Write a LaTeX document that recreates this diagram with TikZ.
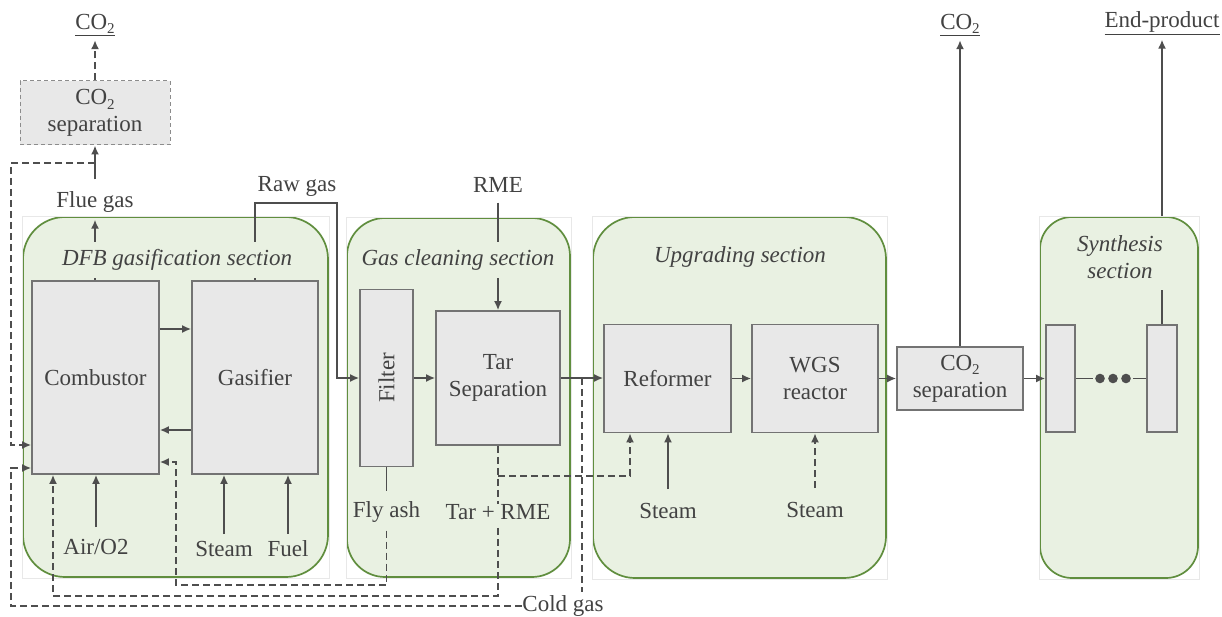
\documentclass[tikz,border=0pt]{standalone}
\usepackage{fontspec}
\setmainfont{Liberation Serif}
\usetikzlibrary{arrows.meta,calc}
\definecolor{secbg}{RGB}{233,241,226}
\definecolor{secline}{RGB}{96,142,62}
\definecolor{boxfill}{RGB}{232,232,232}
\definecolor{boxline}{RGB}{115,115,115}
\definecolor{txt}{RGB}{66,66,66}
\definecolor{lncol}{RGB}{78,78,78}
\newcommand{\cosub}{CO\raisebox{-0.45ex}{\fontsize{15}{15}\selectfont 2}}
\begin{document}
\begin{tikzpicture}[x=1pt,y=-1pt,
  every node/.style={text=txt, font=\fontsize{23}{27}\selectfont},
  sec/.style={draw=secline, fill=secbg, line width=1.7pt, inner sep=0},
  faint/.style={draw=black!9, line width=0.5pt},
  unit/.style={draw=boxline, fill=boxfill, line width=1.6pt, inner sep=0, align=center},
  lbl/.style={inner sep=0, align=center},
  seclbl/.style={inner sep=0, align=center, font=\fontsize{23}{27}\selectfont\itshape},
  pipe/.style={draw=lncol, line width=1.8pt},
  flow/.style={pipe, -{Latex[length=9pt,width=8pt]}},
  dsh/.style={dash pattern=on 7pt off 4pt},
]
\fill[white] (0,0) rectangle (1222,617);
\useasboundingbox (0,0) rectangle (1222,617);

% sections
\node[sec, rounded corners=42pt, minimum width=305pt, minimum height=360pt] (dfb) at (175.5,397) {};
\node[sec, rounded corners=38pt, minimum width=223pt, minimum height=359pt] (gcs) at (458.5,397.5) {};
\node[sec, rounded corners=42pt, minimum width=293pt, minimum height=361pt] (ups) at (739.5,397.5) {};
\node[sec, rounded corners=32pt, minimum width=158pt, minimum height=361pt] (sys) at (1119,397.5) {};
\draw[faint] (dfb.south west) rectangle (dfb.north east);
\draw[faint] (gcs.south west) rectangle (gcs.north east);
\draw[faint] (ups.south west) rectangle (ups.north east);
\draw[faint] (sys.south west) rectangle (sys.north east);

% units
\node[unit, minimum width=127pt, minimum height=193pt] (comb) at (95.5,377.5) {Combustor};
\node[unit, minimum width=126pt, minimum height=193pt] (gasif) at (255,377.5) {Gasifier};
\node[unit, minimum width=53pt, minimum height=177pt] (filt) at (386.5,378) {};
\node[lbl, rotate=90] (filtt) at (filt) {Filter};
\node[unit, minimum width=124pt, minimum height=134pt] (tars) at (498,378) {Tar\\Separation};
\node[unit, minimum width=127pt, minimum height=108pt] (refo) at (667.5,378.5) {Reformer};
\node[unit, minimum width=126pt, minimum height=108pt] (wgs) at (815,378.5) {WGS\\reactor};
\node[unit, minimum width=126pt, minimum height=63pt] (co2r) at (960,378.5) {\cosub\\separation};
\node[unit, minimum width=29pt, minimum height=107pt] (syna) at (1060.5,378.5) {};
\node[unit, minimum width=30pt, minimum height=107pt] (synb) at (1162,378.5) {};
\node[unit, draw=black!45, line width=1pt, dash pattern=on 4pt off 3pt, minimum width=150pt, minimum height=64pt] (co2l) at (95,113) {\cosub\\separation};

% labels
\node[lbl] (co2lt) at (95,25) {\underline{\cosub}};
\node[lbl] (co2rt) at (960,25) {\underline{\cosub}};
\node[lbl] (endp) at (1162,23) {\underline{End-product}};
\node[lbl] (flue) at (95,202) {Flue gas};
\node[lbl] (rawg) at (297,186) {Raw gas};
\node[lbl] (rme) at (498,185) {RME};
\node[lbl] (airo) at (96,547) {Air/O2};
\node[lbl] (stg) at (224,549) {Steam};
\node[lbl] (fuel) at (288,549) {Fuel};
\node[lbl] (flya) at (386.5,512) {Fly ash};
\node[lbl] (tarr) at (498,512) {Tar + RME};
\node[lbl] (str) at (668,511) {Steam};
\node[lbl] (stw) at (815,510) {Steam};
\node[lbl] (cold) at (563,606) {Cold gas};

% DFB connections
\draw[flow] (comb.east |- 0,329) -- (gasif.west |- 0,329);
\draw[flow] (gasif.west |- 0,430) -- (comb.east |- 0,430);
\draw[flow, shorten <=12pt] (airo) -- (comb.south -| airo);
\draw[flow, shorten <=7pt] (stg) -- (gasif.south -| stg);
\draw[flow, shorten <=7pt] (fuel) -- (gasif.south -| fuel);
\draw[flow, shorten >=7pt] (comb.north -| flue) -- (flue);
\draw[flow, shorten <=12pt] (flue) -- (co2l);
\draw[flow, dsh, shorten >=4pt] (co2l) -- (co2lt);
\coordinate (fgsp) at (95,163);
\draw[flow, dsh] (fgsp) -- (11,163) |- (comb.west |- 0,445);
\draw[flow] (gasif.north) |- (337,203) |- (filt.west);

% gas cleaning
\draw[flow] (filt) -- (tars);
\draw[flow, shorten <=10pt] (rme) -- (tars);
\draw[pipe, shorten >=10pt] (filt.south -| flya) -- (flya);
\draw[flow] (tars.east) -- (refo.west |- tars.east);
\coordinate (cgtap) at (582,378);
\draw[pipe, dsh, shorten >=3pt] (cgtap) -- (cgtap |- cold.north);
\draw[flow, dsh] (cold.west) -- (11,606) |- (comb.west |- 0,468);
\draw[pipe, dsh] (tars) -- (tarr);
\draw[flow, dsh, shorten <=8pt] (tarr) -- (tarr |- 0,596) -| (comb.south -| 53,0);
\coordinate (tsp) at (498,476);
\draw[flow, dsh] (tsp) -| (refo.south -| 630,0);
\draw[flow, dsh, shorten <=8pt] (flya) -- (flya |- 0,585) -| (176,462) -- (comb.east |- 0,462);

% upgrading
\draw[flow] (refo) -- (wgs);
\draw[flow, shorten <=14pt] (str) -- (refo.south -| str);
\draw[flow, dsh, shorten <=14pt] (stw) -- (wgs.south -| stw);
\draw[flow] (wgs) -- (co2r);
\draw[flow, shorten >=4pt] (co2r) -- (co2rt);
\draw[flow] (co2r) -- (syna);

% synthesis
\node[inner sep=0, minimum width=40pt, minimum height=10pt] (dots) at (1113,378.5) {};
\fill[lncol] (1100,378.5) circle[radius=4.8pt] (1113,378.5) circle[radius=4.8pt] (1126,378.5) circle[radius=4.8pt];
\draw[pipe] (syna) -- (dots);
\draw[pipe] (dots) -- (synb);
\coordinate (synt) at (1162,290);
\draw[pipe] (synb) -- (synt);
\draw[flow, shorten >=5pt] (synb |- sys.north) -- (endp);

% section labels
\node[seclbl, fill=secbg, minimum width=240pt, minimum height=36pt] (dfbl) at (177,260) {DFB gasification section};
\node[seclbl, fill=secbg, minimum width=200pt, minimum height=36pt] (gcsl) at (458,260) {Gas cleaning section};
\node[seclbl] (upsl) at (740,257) {Upgrading section};
\node[seclbl] (sysl) at (1120,257) {Synthesis\\section};
\end{tikzpicture}
\end{document}
